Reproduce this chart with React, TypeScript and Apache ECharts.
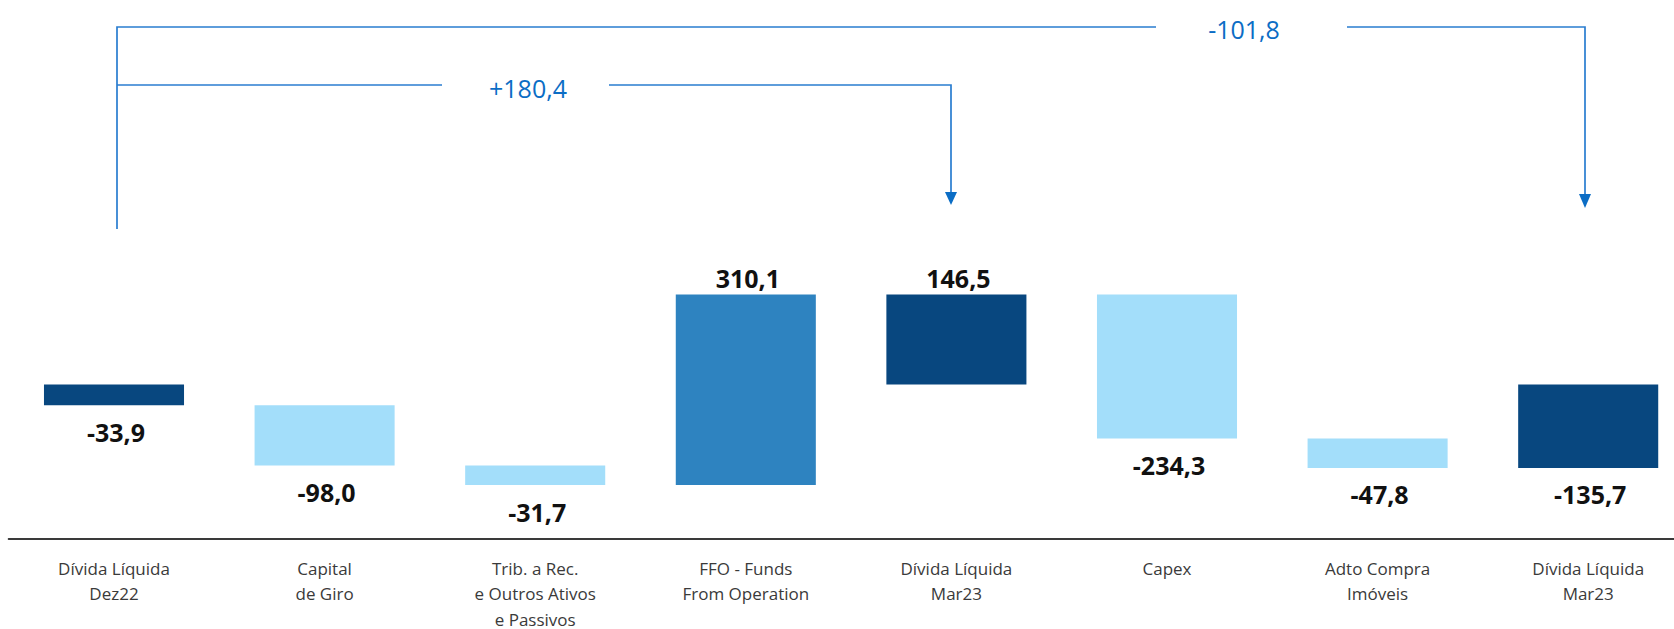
import React, { useEffect, useRef } from "react";
import * as echarts from "echarts";

const categories = [
  "Dívida Líquida\nDez22",
  "Capital\nde Giro",
  "Trib. a Rec.\ne Outros Ativos\ne Passivos",
  "FFO - Funds\nFrom Operation",
  "Dívida Líquida\nMar23",
  "Capex",
  "Adto Compra\nImóveis",
  "Dívida Líquida\nMar23",
];
const values = [-33.9, -98.0, -31.7, 310.1, 146.5, -234.3, -47.8, -135.7];
const kinds = ["total", "delta", "delta", "delta", "total", "delta", "delta", "total"];
const bracketLabels = ["+180,4", "-101,8"];

const COLORS = {
  total: "#08477F",
  neg: "#A3DEFA",
  pos: "#2E83C0",
};

const fmt = (v: number) => v.toFixed(1).replace(".", ",");

export default function App() {
  const ref = useRef<HTMLDivElement>(null);

  useEffect(() => {
    if (!ref.current) return;
    const chart = echarts.init(ref.current, undefined, { renderer: "svg" });

    // waterfall ranges
    let run = 0;
    const ranges: number[][] = [];
    values.forEach((v, i) => {
      if (kinds[i] === "total") {
        ranges.push([i, 0, v]);
        run = v;
      } else {
        ranges.push([i, run, run + v]);
        run = run + v;
      }
    });

    const lineColor = "#2A7DD0";
    const headColor = "#0B6DC5";
    const textColor = "#0B6DC5";

    chart.setOption({
      animation: false,
      grid: {
        left: 8.7,
        right: -19.5,
        top: 138.5,
        bottom: 90.75,
        containLabel: false,
        outerBoundsMode: "none",
      },
      xAxis: {
        type: "category",
        data: categories,
        axisLine: { show: true, onZero: false, lineStyle: { color: "#3a3a3a", width: 2 } },
        axisTick: { show: false },
        axisLabel: {
          interval: 0,
          margin: 17,
          fontSize: 17,
          lineHeight: 25.5,
          color: "#3a3a3a",
          fontFamily: "Open Sans",
        },
        splitLine: { show: false },
      },
      yAxis: {
        type: "value",
        min: -250,
        max: 400,
        show: false,
        splitLine: { show: false },
      },
      series: [
        {
          type: "custom",
          data: ranges,
          encode: { x: 0, y: [1, 2] },
          renderItem: (params: any, api: any) => {
            const i = api.value(0);
            const s = api.value(1);
            const e = api.value(2);
            const idx = params.dataIndex;
            const top = api.coord([i, Math.max(s, e)]);
            const bot = api.coord([i, Math.min(s, e)]);
            const w = api.size([1, 0])[0] * 0.665;
            const kind = kinds[idx];
            const v = values[idx];
            const fill = kind === "total" ? COLORS.total : v < 0 ? COLORS.neg : COLORS.pos;
            const above = v > 0;
            return {
              type: "group",
              children: [
                {
                  type: "rect",
                  shape: { x: top[0] - w / 2, y: top[1], width: w, height: bot[1] - top[1] },
                  style: { fill },
                },
                {
                  type: "text",
                  x: top[0] + 2,
                  y: above ? top[1] - 4 : bot[1] + 14,
                  style: {
                    text: fmt(v),
                    fontFamily: "Open Sans",
                    fontWeight: "bold",
                    fontSize: 25,
                    fill: "#111111",
                    align: "center",
                    verticalAlign: above ? "bottom" : "top",
                  },
                },
              ],
            };
          },
        },
      ],
      graphic: [
        // outer bracket
        {
          type: "polyline",
          shape: { points: [[117, 229], [117, 27], [1156, 27]] },
          style: { stroke: lineColor, lineWidth: 1.7, fill: null },
        },
        {
          type: "polyline",
          shape: { points: [[1347, 27], [1585, 27], [1585, 194]] },
          style: { stroke: lineColor, lineWidth: 1.7, fill: null },
        },
        {
          type: "polygon",
          shape: { points: [[1579, 194], [1591, 194], [1585, 208]] },
          style: { fill: headColor },
        },
        {
          type: "text",
          x: 1244,
          y: 29,
          style: {
            text: bracketLabels[1],
            fontFamily: "Open Sans",
            fontSize: 25,
            fill: textColor,
            align: "center",
            verticalAlign: "middle",
          },
        },
        // inner bracket
        {
          type: "line",
          shape: { x1: 117, y1: 85, x2: 442, y2: 85 },
          style: { stroke: lineColor, lineWidth: 1.7 },
        },
        {
          type: "polyline",
          shape: { points: [[609, 85], [951, 85], [951, 192]] },
          style: { stroke: lineColor, lineWidth: 1.7, fill: null },
        },
        {
          type: "polygon",
          shape: { points: [[945, 192], [957, 192], [951, 205]] },
          style: { fill: headColor },
        },
        {
          type: "text",
          x: 528,
          y: 88,
          style: {
            text: bracketLabels[0],
            fontFamily: "Open Sans",
            fontSize: 25,
            fill: textColor,
            align: "center",
            verticalAlign: "middle",
          },
        },
      ],
    });

    return () => chart.dispose();
  }, []);

  return (
    <div
      ref={ref}
      style={{ position: "absolute", left: 0, top: 0, width: 1674, height: 629, background: "#fff" }}
    />
  );
}
